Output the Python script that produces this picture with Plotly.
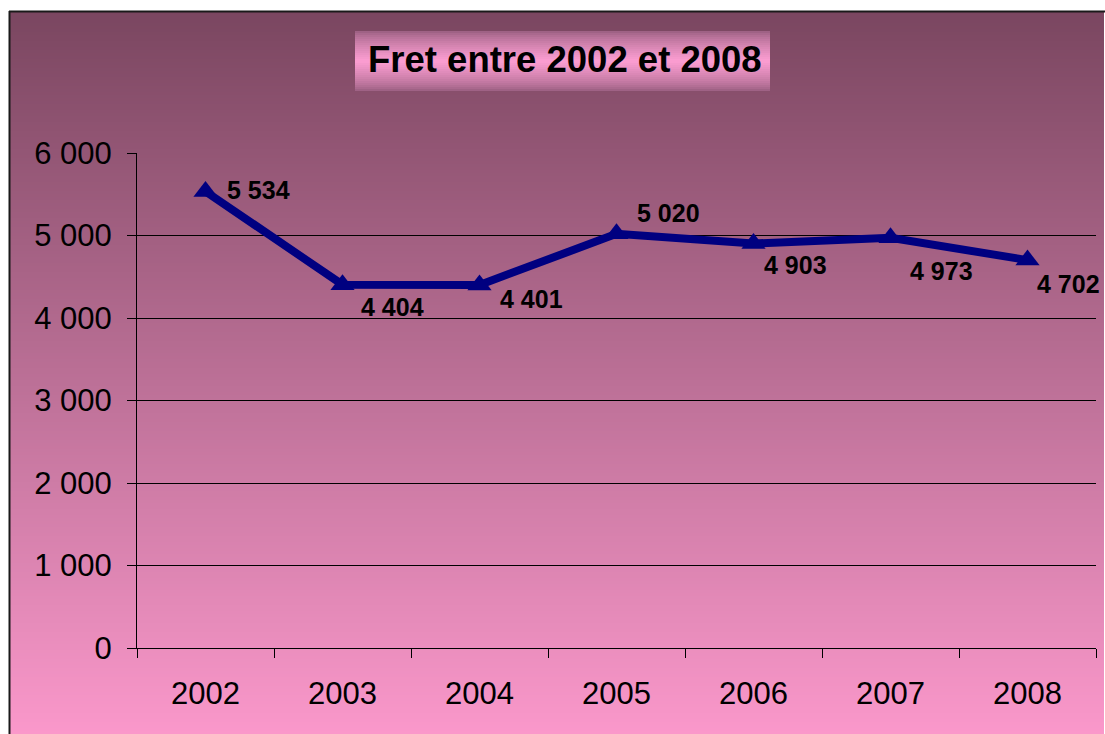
import plotly.graph_objects as go

years = ["2002", "2003", "2004", "2005", "2006", "2007", "2008"]
fret = [5534, 4404, 4401, 5020, 4903, 4973, 4702]
labels = ["5 534", "4 404", "4 401", "5 020", "4 903", "4 973", "4 702"]
y_ticks = [0, 1000, 2000, 3000, 4000, 5000, 6000]
y_ticktext = ["0", "1 000", "2 000", "3 000", "4 000", "5 000", "6 000"]
title_text = "Fret entre 2002 et 2008"

OFF = 0  # body margin removed via post_script
W, H = 1105 - OFF, 734 - OFF
L, R, T, B = 137 - OFF, 1096 - OFF, 153 - OFF, 648 - OFF

def px(x):
    return (x - OFF - L) / (R - L)

def py(y):
    return (B - (y - OFF)) / (B - T)

def lerp(c1, c2, f):
    return tuple(int(round(a + (b - a) * f)) for a, b in zip(c1, c2))

shapes = []
top_c = (122, 70, 96)
bot_c = (252, 153, 204)
y_start, y_end = 11, 743
step = 3
for ya in range(y_start, y_end, step):
    yb = ya + step + 1
    f = (ya + step / 2 - y_start) / (y_end - y_start)
    c = lerp(top_c, bot_c, min(f, 1))
    shapes.append(dict(type="rect", xref="paper", yref="paper", layer="below",
                       x0=px(9), x1=px(1104), y0=py(yb), y1=py(ya),
                       fillcolor="rgb(%d,%d,%d)" % c, line=dict(width=0)))

# title box gradient
tb_top, tb_bot = 31, 91
edge_c = (150, 92, 125)
mid_c = (252, 158, 210)
for ya in range(tb_top, tb_bot, 2):
    yb = min(ya + 3, tb_bot)
    f = (ya + 1 - tb_top) / (tb_bot - tb_top)
    d = 1 - abs(f - 0.5) * 2
    c = lerp(edge_c, mid_c, max(d, 0) ** 0.7)
    shapes.append(dict(type="rect", xref="paper", yref="paper", layer="below",
                       x0=px(355), x1=px(770), y0=py(yb), y1=py(ya),
                       fillcolor="rgb(%d,%d,%d)" % c, line=dict(width=0)))

# frame border: top and left only
shapes.append(dict(type="line", xref="paper", yref="paper", layer="above",
                   x0=px(9), x1=px(1105), y0=py(11.5), y1=py(11.5),
                   line=dict(color="#1a1a1a", width=2)))
shapes.append(dict(type="line", xref="paper", yref="paper", layer="above",
                   x0=px(9.5), x1=px(9.5), y0=py(745), y1=py(11),
                   line=dict(color="#1a1a1a", width=2)))

fig = go.Figure()
fig.add_trace(go.Scatter(
    x=years, y=fret, mode="lines+markers",
    line=dict(color="#000080", width=8),
    marker=dict(symbol="triangle-up", size=21, color="#000080"),
    cliponaxis=False, showlegend=False, hoverinfo="skip"))

offsets = [(19, 1), (16, -22), (18, -14), (18, 21), (8, -21), (17, -33), (7, -24)]
annotations = []
for i, (v, lab, (dx, dy)) in enumerate(zip(fret, labels, offsets)):
    annotations.append(dict(x=i, y=v, xref="x", yref="y", text="<b>%s</b>" % lab,
                            showarrow=False, xanchor="left", yanchor="middle",
                            xshift=dx, yshift=dy,
                            font=dict(family="Liberation Sans, Arial", size=25, color="black")))

annotations.append(dict(x=px(565), y=py(60), xref="paper", yref="paper",
                        text="<b>%s</b>" % title_text, showarrow=False,
                        xanchor="center", yanchor="middle",
                        font=dict(family="Liberation Sans, Arial", size=36.5, color="black")))

fig.update_layout(
    width=W, height=H,
    margin=dict(l=L, r=W - R, t=T, b=H - B),
    paper_bgcolor="white", plot_bgcolor="rgba(0,0,0,0)",
    shapes=shapes, annotations=annotations,
    xaxis=dict(type="category", range=[-0.5, 6.5], tickson="boundaries",
               ticks="outside", ticklen=9, tickcolor="black", tickwidth=1,
               showline=True, linecolor="black", linewidth=1, showgrid=False,
               ticklabelstandoff=18,
               tickfont=dict(family="Liberation Sans, Arial", size=31, color="black")),
    yaxis=dict(range=[0, 6000], tickvals=y_ticks, ticktext=y_ticktext,
               ticks="outside", ticklen=9, tickcolor="black", tickwidth=1,
               showline=True, linecolor="black", linewidth=1,
               showgrid=True, gridcolor="black", gridwidth=1, zeroline=False,
               ticklabelstandoff=9,
               tickfont=dict(family="Liberation Sans, Arial", size=31, color="black")),
)

fig.write_html("out.html",
               config={"displayModeBar": False},
               post_script="document.body.style.margin='0';"
                           "document.documentElement.style.overflow='hidden';"
                           "document.body.style.overflow='hidden';")
